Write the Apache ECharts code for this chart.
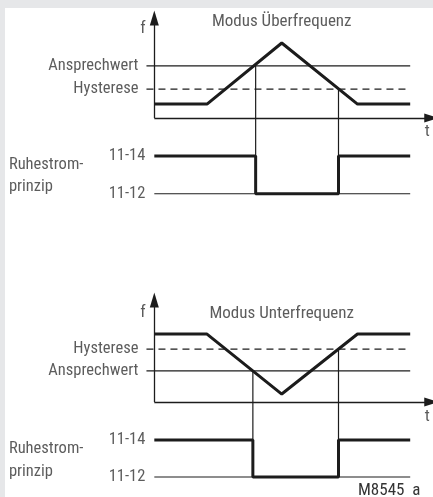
<!DOCTYPE html>
<html><head><meta charset="utf-8">
<script src="https://cdn.jsdelivr.net/npm/echarts@6/dist/echarts.min.js"></script>
<style>html,body{margin:0;padding:0;background:#e6e7e9}#c{width:433px;height:497px}</style>
</head><body><div id="c"></div>
<script>
// ---- data (t in time units, f in frequency units) ----
const titles = ['Modus Überfrequenz', 'Modus Unterfrequenz'];
const levelLabels = ['Ansprechwert', 'Hysterese'];
const relayLabels = ['11-14', '11-12'];
const principleLabel = ['Ruhestrom-', 'prinzip'];
const figureCode = 'M8545  a';
// Überfrequenz
const overFreqT = [0, 2.08, 5.03, 8.02, 10.1];
const overFreqF = [0.93, 0.93, 5.0, 0.93, 0.93];
const overAnsprech = 3.47, overHyst = 1.93;
const overSwitchT = [4.0, 7.27];
// Unterfrequenz
const underFreqT = [0, 2.08, 5.03, 8.02, 10.1];
const underFreqF = [4.53, 4.53, 0.53, 4.53, 4.53];
const underAnsprech = 2.07, underHyst = 3.53;
const underSwitchT = [3.89, 7.27];
// relay levels
const relayHigh = -2.53, relayLow = -5.05, relayLowU = -5.0;
const tEnd = 10.1, tLevelStart = -0.31, tArrow = 10.95, fArrow = [6.67, 6.8];

const INK = '#1c1c1c', TXT = '#333333';
const FONT = "'Roboto Condensed','DejaVu Sans Condensed',sans-serif";

function textSeries(gi, items) {
  return { type: 'scatter', xAxisIndex: gi, yAxisIndex: gi, symbolSize: 0, silent: true, clip: false, z: 5,
    data: items.map(it => ({ value: it.v, name: it.t,
      label: { show: true, formatter: '{b}', position: it.p || 'inside', distance: it.d || 0,
        align: it.a, color: TXT, fontFamily: FONT, fontSize: it.s || 16.5 } })) };
}
function lineSeries(gi, pts, w, dashed, z) {
  return { type: 'line', xAxisIndex: gi, yAxisIndex: gi, data: pts, symbol: 'none', silent: true,
    animation: false, z: z || 2, lineStyle: { color: INK, width: w, type: dashed ? [7, 5] : 'solid' } };
}
function axisArrows(gi, tip) {
  return { type: 'line', xAxisIndex: gi, yAxisIndex: gi, data: [], symbol: 'none', silent: true,
    markLine: { silent: true, animation: false, symbol: ['none', 'triangle'], symbolSize: [9, 15],
      lineStyle: { color: INK, width: 1.3, type: 'solid' }, label: { show: false },
      data: [ [{ coord: [0, 0] }, { coord: [tArrow, 0] }], [{ coord: [0, 0] }, { coord: [0, tip] }] ] } };
}
function diagram(gi, freqT, freqF, ansp, hyst, sw, tip, low) {
  const s = [];
  s.push(axisArrows(gi, tip));
  s.push(lineSeries(gi, [[tLevelStart, ansp], [tEnd, ansp]], 1.2, false));
  s.push(lineSeries(gi, [[tLevelStart, hyst], [tEnd, hyst]], 1.2, true));
  s.push(lineSeries(gi, [[0, low], [tEnd, low]], 1.2, false));
  s.push(lineSeries(gi, [[sw[0], ansp], [sw[0], low]], 1.2, false));
  s.push(lineSeries(gi, [[sw[1], hyst], [sw[1], low]], 1.2, false));
  s.push(lineSeries(gi, freqT.map((t, i) => [t, freqF[i]]), 3, false, 4));
  s.push(lineSeries(gi, [[0, relayHigh], [sw[0], relayHigh], [sw[0], low], [sw[1], low],
    [sw[1], relayHigh], [tEnd, relayHigh]], 3, false, 4));
  return s;
}
const series = [];
series.push(...diagram(0, overFreqT, overFreqF, overAnsprech, overHyst, overSwitchT, fArrow[0], relayLow));
series.push(...diagram(1, underFreqT, underFreqF, underAnsprech, underHyst, underSwitchT, fArrow[1], relayLowU));
series.push(textSeries(0, [
  { t: titles[0], v: [5.03, 6.4], s: 17 },
  { t: 'f', v: [-0.45, 5.93], s: 17 },
  { t: 't', v: [10.77, -0.93], s: 17 },
  { t: levelLabels[0], v: [tLevelStart, overAnsprech], p: 'left', d: 8 },
  { t: levelLabels[1], v: [tLevelStart, overHyst], p: 'left', d: 8 },
  { t: relayLabels[0], v: [0, relayHigh], p: 'left', d: 9 },
  { t: relayLabels[1], v: [0, relayLow], p: 'left', d: 9 },
  { t: principleLabel[0], v: [-5.74, -3.13], a: 'left' },
  { t: principleLabel[1], v: [-5.74, -4.6], a: 'left' }
]));
series.push(textSeries(1, [
  { t: titles[1], v: [5.03, 5.87], s: 17 },
  { t: 'f', v: [-0.45, 5.93], s: 17 },
  { t: 't', v: [10.77, -1.0], s: 17 },
  { t: levelLabels[1], v: [tLevelStart, underHyst], p: 'left', d: 8 },
  { t: levelLabels[0], v: [tLevelStart, underAnsprech], p: 'left', d: 8 },
  { t: relayLabels[0], v: [0, relayHigh], p: 'left', d: 9 },
  { t: relayLabels[1], v: [0, relayLowU], p: 'left', d: 9 },
  { t: principleLabel[0], v: [-5.74, -3.13], a: 'left' },
  { t: principleLabel[1], v: [-5.74, -4.67], a: 'left' }
]));

const UX = 25.45, UY = 15;
const chart = echarts.init(document.getElementById('c'), null, { renderer: 'canvas' });
const axX = i => ({ type: 'value', gridIndex: i, min: -6, max: 11, show: false });
const axY = i => ({ type: 'value', gridIndex: i, min: -6, max: 7, show: false });
chart.setOption({
  animation: false,
  backgroundColor: '#e6e7e9',
  graphic: [
    { type: 'rect', shape: { x: 5, y: 8, width: 428, height: 489 }, style: { fill: '#ffffff' }, z: -10 },
    { type: 'text', left: 358, top: 482, style: { text: figureCode, fill: TXT, font: "17px " + FONT } }
  ],
  grid: [
    { left: 155 - 6 * UX, top: 118 - 7 * UY, width: 17 * UX, height: 13 * UY },
    { left: 155 - 6 * UX, top: 402 - 7 * UY, width: 17 * UX, height: 13 * UY }
  ],
  xAxis: [axX(0), axX(1)],
  yAxis: [axY(0), axY(1)],
  series
});
</script></body></html>
